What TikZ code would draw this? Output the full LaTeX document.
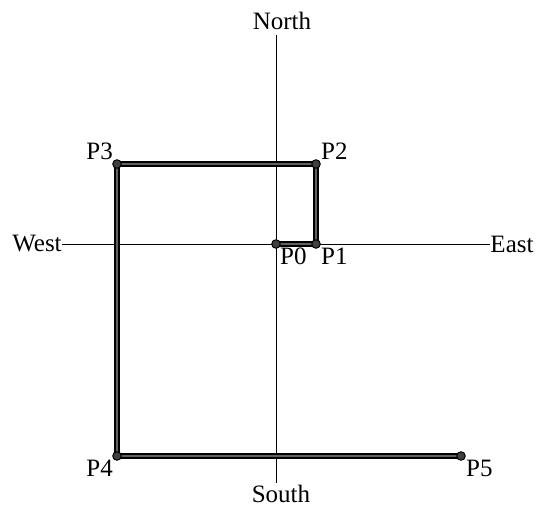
\documentclass[tikz,border=0pt]{standalone}
\usepackage{fontspec}
\setmainfont{Liberation Serif}
\begin{document}
\begin{tikzpicture}[x=1pt,y=-1pt,
  font=\fontsize{25}{29}\selectfont,
  axis/.style={draw=black,line width=0.9pt},
  route/.style={draw=black,double=black!62,line width=1.4pt,double distance=2.4pt,line join=miter},
  dot/.style={circle,fill=black!75,draw=black,line width=1pt,inner sep=0pt,minimum size=8.5pt},
  lbl/.style={inner sep=1pt}]
\useasboundingbox (0,0) rectangle (536,511);
% direction labels
\node[lbl] (north) at (282,21) {North};
\node[lbl] (south) at (281,494) {South};
\node[lbl,inner sep=0pt] (west) at (37,244) {West};
\node[lbl,inner sep=0pt] (east) at (512,244) {East};
% points
\coordinate (p0) at (276,244);
\coordinate (p1) at (316,244);
\coordinate (p2) at (316,164);
\coordinate (p3) at (117,164);
\coordinate (p4) at (117,456);
\coordinate (p5) at (461,456);
% axes
\coordinate (ntop) at (276,35);
\coordinate (sbot) at (276,483);
\draw[axis] (ntop) -- (sbot);
\draw[axis] (west.east) -- (east.west);
% route
\draw[route] (p0) -- (p1) -- (p2) -- (p3) -- (p4) -- (p5);
% dots
\foreach \p in {p0,p1,p2,p3,p4,p5} \node[dot] (d\p) at (\p) {};
% labels
\node[lbl,anchor=north west] (l0) at (279,247) {P0};
\node[lbl,anchor=north west] (l1) at (320,247) {P1};
\node[lbl,anchor=south west] (l2) at (320,161) {P2};
\node[lbl,anchor=south east] (l3) at (114,161) {P3};
\node[lbl,anchor=north east] (l4) at (114,459) {P4};
\node[lbl,anchor=north west] (l5) at (465,459) {P5};
\end{tikzpicture}
\end{document}
